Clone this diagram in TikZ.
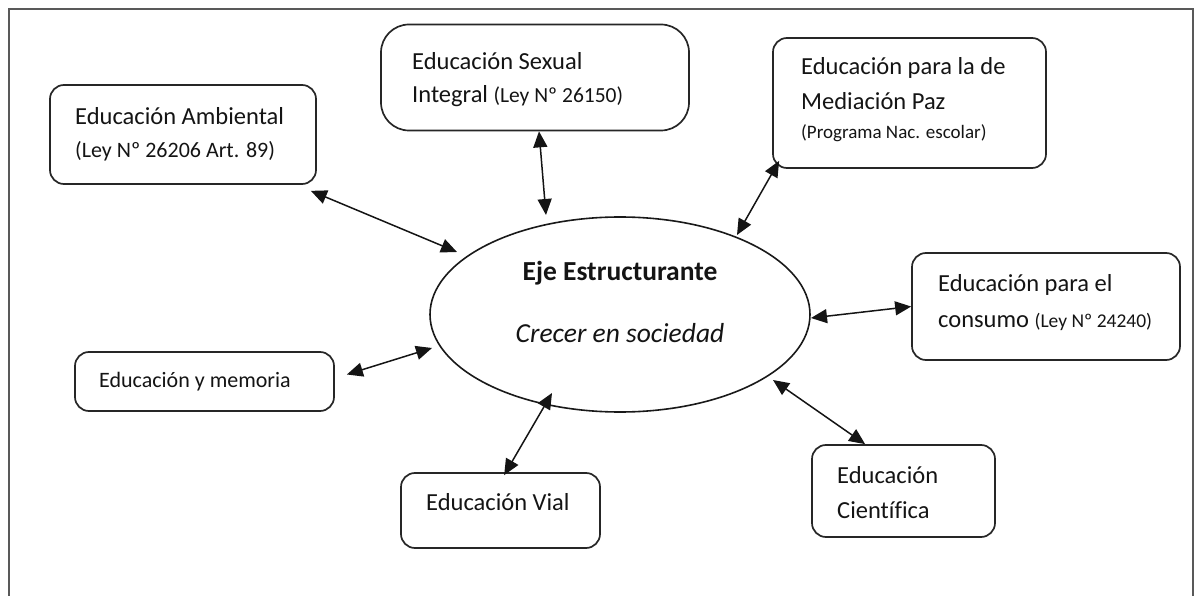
\documentclass[tikz,border=0pt]{standalone}
\usepackage{fontspec}
\setmainfont{Carlito}[Ligatures=NoCommon]
\usetikzlibrary{arrows.meta,shapes.geometric,calc}
\begin{document}
\begin{tikzpicture}[x=1pt,y=-1pt,
  box/.style={draw=black!85, line width=1.7pt, rounded corners=14pt, inner sep=0pt},
  lbl/.style={anchor=base west, inner sep=0pt, text=black!92, font=\fontsize{24.5}{28}\selectfont},
  sm/.style={font=\fontsize{19}{22}\selectfont},
  link/.style={{Triangle[length=16pt,width=14pt]}-{Triangle[length=16pt,width=14pt]}, line width=1.5pt, black!92}]
\useasboundingbox (0,0) rectangle (1195,596);
\draw[black!65, line width=1.5pt] (9,598) -- (9,9) -- (1193,9) -- (1193,598);

% central ellipse
\node[draw=black!90, line width=1.6pt, ellipse, minimum width=380pt, minimum height=195pt, inner sep=0pt] (ell) at (620,314.5) {};
\node[anchor=base, inner sep=0pt, text=black!92, font=\fontsize{27.5}{32}\selectfont\bfseries] (eje) at (620,280) {Eje Estructurante};
\node[anchor=base, inner sep=0pt, text=black!92, font=\fontsize{27.5}{32}\selectfont\itshape] (crec) at (620,342) {Crecer en sociedad};

% boxes
\node[box, minimum width=266pt, minimum height=99pt] (amb) at (183,134.5) {};
\node[lbl] (amb1) at (75,125) {Educación Ambiental};
\node[lbl, font=\fontsize{22}{26}\selectfont] (amb2) at (75,158) {(Ley Nº 26206 Art. 89)};

\node[box, rounded corners=28pt, minimum width=308pt, minimum height=106pt] (sex) at (535,77.5) {};
\node[lbl] (sex1) at (412,70) {Educación Sexual};
\node[lbl] (sex2) at (412,103) {Integral {\fontsize{21.5}{24}\selectfont(Ley Nº 26150)}};

\node[box, minimum width=273pt, minimum height=130pt] (med) at (909.5,103) {};
\node[lbl] (med1) at (801,75) {Educación para la de};
\node[lbl] (med2) at (801,110) {Mediación Paz};
\node[lbl, sm] (med3) at (801,139) {(Programa Nac. escolar)};

\node[box, minimum width=268pt, minimum height=107pt] (cons) at (1046,306.5) {};
\node[lbl] (cons1) at (938,292) {Educación para el};
\node[lbl] (cons2) at (938,327) {consumo {\fontsize{19.5}{22}\selectfont(Ley Nº 24240)}};

\node[box, minimum width=183pt, minimum height=92pt] (cie) at (903.5,491) {};
\node[lbl] (cie1) at (837,483) {Educación};
\node[lbl] (cie2) at (837,518) {Científica};

\node[box, minimum width=199pt, minimum height=75pt] (vial) at (500.5,510.5) {};
\node[lbl] (vial1) at (426,510) {Educación Vial};

\node[box, minimum width=259pt, minimum height=59pt] (mem) at (204.5,381.5) {};
\node[lbl, font=\fontsize{22}{26}\selectfont] (mem1) at (99,387) {Educación y memoria};

% connector ends on the ellipse side
\coordinate (e1) at (457,252);
\coordinate (e2) at (546,215);
\coordinate (e3) at (737,235);
\coordinate (e4) at (811,318);
\coordinate (e5) at (773,380);
\coordinate (e6) at (552,393);
\coordinate (e7) at (432,348);

\draw[link] ($(amb.south east)+(-6,6)$) -- (e1);
\draw[link] ($(sex.south)+(4,0)$) -- (e2);
\draw[link] ($(med.south west)+(7,-8)$) -- (e3);
\draw[link] (cons.west) -- (e4);
\draw[link] ($(cie.north west)+(54,0)$) -- (e5);
\draw[link] ($(vial.north west)+(104,3)$) -- (e6);
\draw[link] ($(mem.east)+(12,-7)$) -- (e7);
\end{tikzpicture}
\end{document}
